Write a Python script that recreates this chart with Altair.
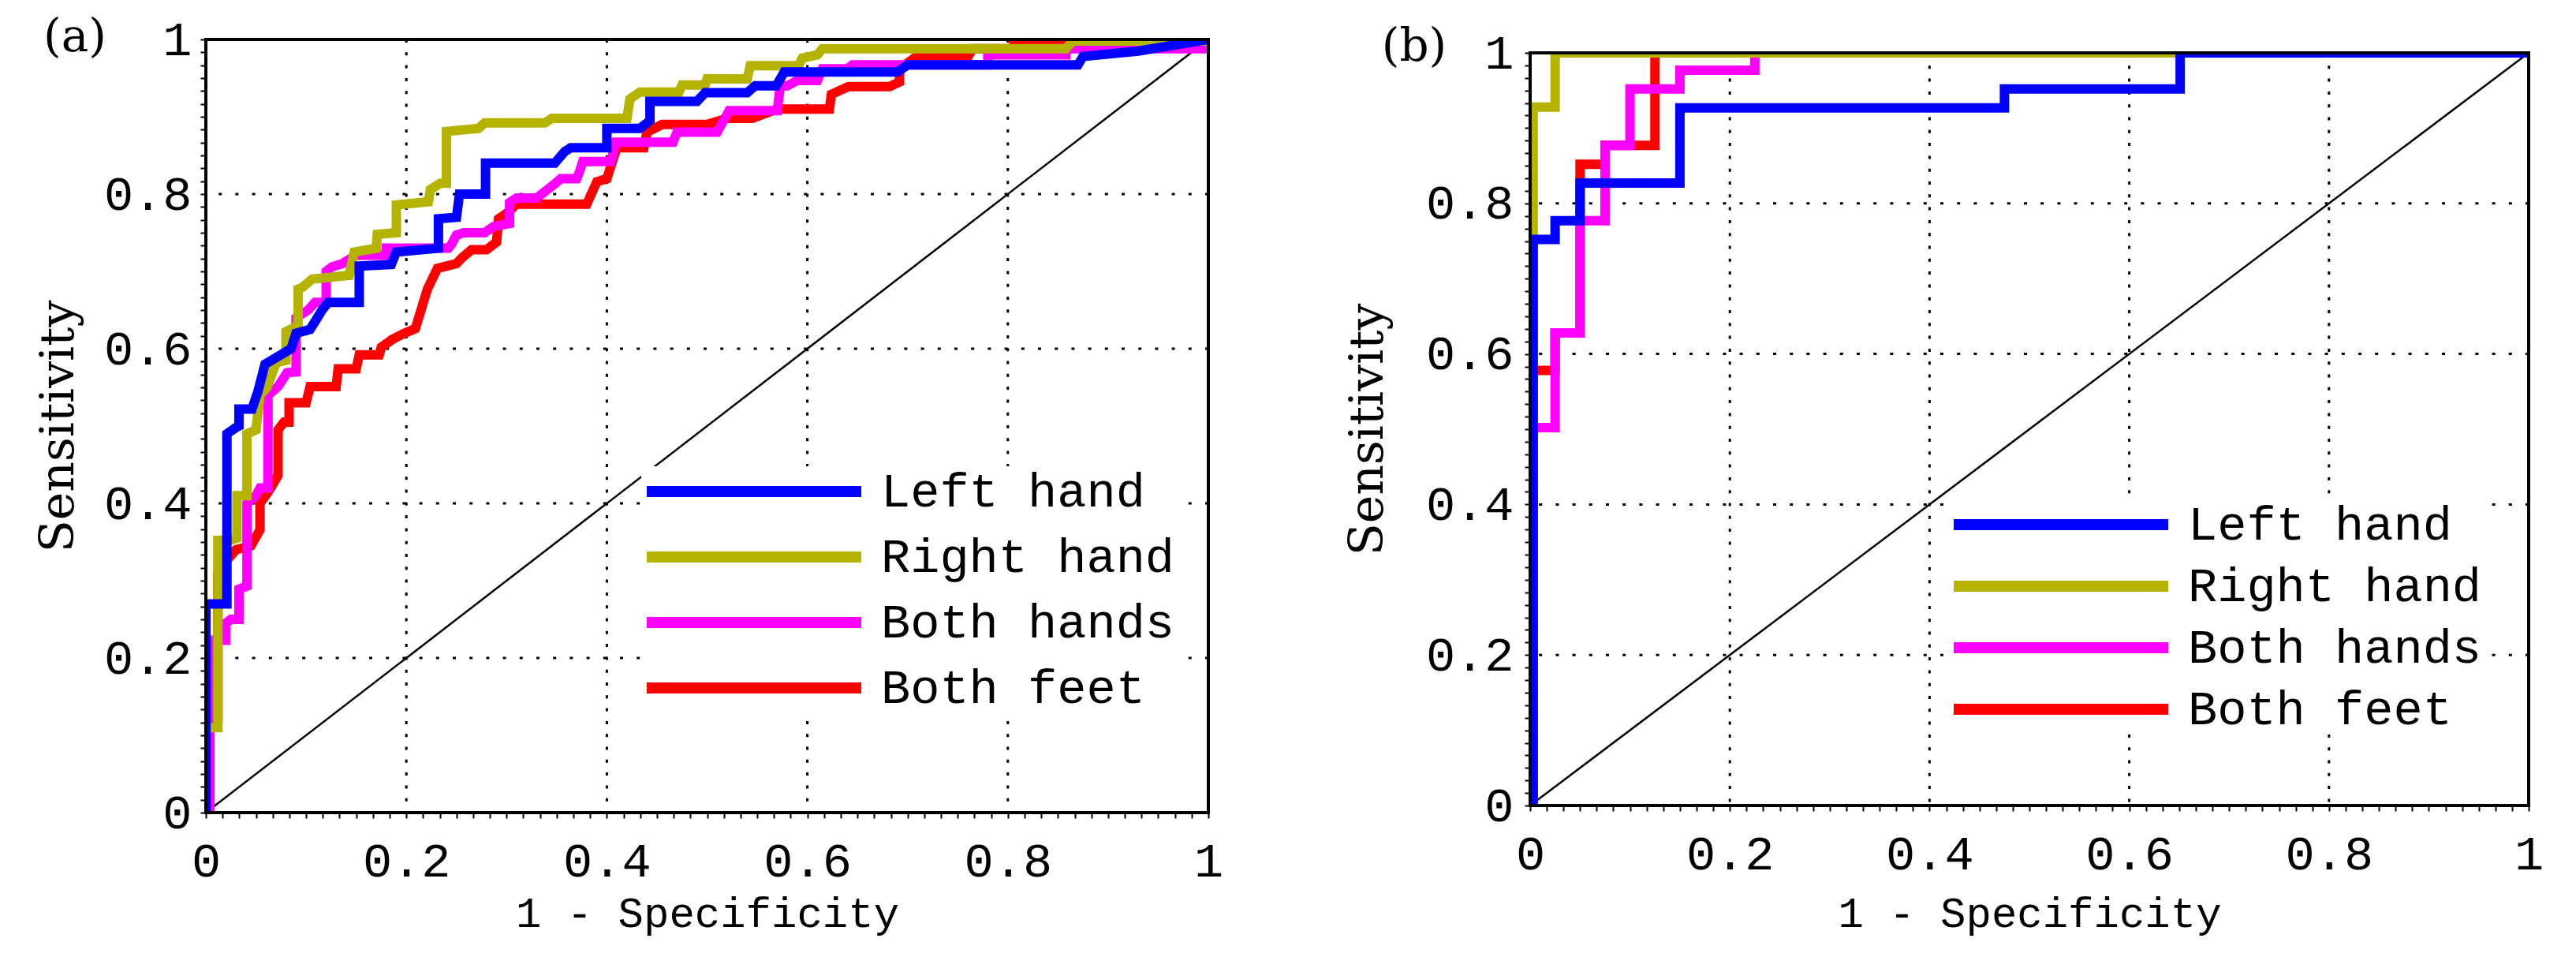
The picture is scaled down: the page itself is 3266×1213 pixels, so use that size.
import altair as alt
import pandas as pd

FONT = "DejaVu Serif"
MONO = "Liberation Mono"
SERIES = ["Left hand", "Right hand", "Both hands", "Both feet"]
COLORS = ["#0000FF", "#B4B400", "#FF00FF", "#FF0000"]
DRAW_ORDER = ["Both feet", "Both hands", "Right hand", "Left hand"]

TICK_VALUES = [round(i / 60, 6) for i in range(61)]
GRID_VALUES = [0.2, 0.4, 0.6, 0.8]
DIAG = [0.0, 1.0]

# ---------------- panel (a) ----------------
a_left_fpr = [0.0, 0.0, 0.021, 0.021, 0.03, 0.033, 0.033, 0.046, 0.052, 0.059, 0.085, 0.09, 0.104, 0.116, 0.122,
              0.153, 0.153, 0.185, 0.19, 0.232, 0.232, 0.25, 0.253, 0.279, 0.279, 0.348, 0.358, 0.364, 0.4, 0.4,
              0.433, 0.443, 0.443, 0.49, 0.498, 0.54, 0.548, 0.569, 0.577, 0.69, 0.7, 0.87, 0.875, 0.93, 1.0]
a_left_tpr = [0.0, 0.27, 0.27, 0.49, 0.498, 0.5, 0.522, 0.522, 0.545, 0.58, 0.6, 0.62, 0.625, 0.65, 0.66,
              0.66, 0.707, 0.709, 0.725, 0.73, 0.768, 0.77, 0.8, 0.8, 0.84, 0.84, 0.855, 0.86, 0.86, 0.885,
              0.885, 0.895, 0.92, 0.92, 0.931, 0.931, 0.94, 0.94, 0.958, 0.958, 0.967, 0.967, 0.978, 0.985, 1.0]

a_right_fpr = [0.0, 0.0, 0.012, 0.012, 0.026, 0.031, 0.031, 0.041, 0.041, 0.05, 0.054, 0.061, 0.07, 0.08, 0.08,
               0.092, 0.092, 0.097, 0.106, 0.143, 0.148, 0.17, 0.171, 0.19, 0.19, 0.222, 0.224, 0.234, 0.24, 0.24,
               0.272, 0.278, 0.338, 0.345, 0.42, 0.423, 0.433, 0.472, 0.475, 0.498, 0.5, 0.54, 0.543, 0.591,
               0.595, 0.61, 0.615, 0.858, 0.865, 1.0]
a_right_tpr = [0.0, 0.11, 0.11, 0.352, 0.353, 0.355, 0.41, 0.41, 0.49, 0.495, 0.54, 0.55, 0.582, 0.585, 0.622,
               0.63, 0.677, 0.68, 0.69, 0.695, 0.725, 0.73, 0.748, 0.75, 0.786, 0.79, 0.806, 0.814, 0.814, 0.881,
               0.885, 0.892, 0.892, 0.898, 0.898, 0.923, 0.932, 0.932, 0.941, 0.941, 0.949, 0.949, 0.966, 0.966,
               0.976, 0.98, 0.988, 0.988, 0.998, 0.998]

a_both_hands_fpr = [0.004, 0.004, 0.02, 0.02, 0.025, 0.033, 0.033, 0.041, 0.041, 0.05, 0.054, 0.062, 0.062, 0.072,
                    0.081, 0.09, 0.09, 0.102, 0.109, 0.12, 0.12, 0.126, 0.136, 0.15, 0.18, 0.18, 0.242, 0.245,
                    0.25, 0.257, 0.278, 0.287, 0.303, 0.303, 0.31, 0.33, 0.348, 0.354, 0.37, 0.373, 0.376, 0.404,
                    0.409, 0.466, 0.47, 0.51, 0.522, 0.57, 0.573, 0.58, 0.59, 0.61, 0.615, 0.64, 0.645, 0.78,
                    0.78, 0.858, 0.858, 0.995, 1.0]
a_both_hands_tpr = [0.0, 0.223, 0.223, 0.245, 0.25, 0.25, 0.289, 0.293, 0.4, 0.41, 0.42, 0.42, 0.54, 0.551,
                    0.569, 0.57, 0.64, 0.65, 0.66, 0.66, 0.7, 0.706, 0.71, 0.721, 0.721, 0.73, 0.73, 0.735,
                    0.747, 0.75, 0.75, 0.758, 0.762, 0.789, 0.795, 0.795, 0.813, 0.82, 0.82, 0.83, 0.842, 0.842,
                    0.867, 0.867, 0.88, 0.88, 0.908, 0.908, 0.94, 0.94, 0.947, 0.947, 0.962, 0.962, 0.967, 0.967,
                    0.98, 0.98, 0.988, 0.988, 1.0]

a_both_feet_fpr = [0.004, 0.004, 0.012, 0.012, 0.02, 0.03, 0.045, 0.054, 0.054, 0.0625, 0.072, 0.072, 0.078, 0.083,
                   0.083, 0.1, 0.104, 0.13, 0.132, 0.15, 0.153, 0.173, 0.175, 0.186, 0.198, 0.209, 0.221, 0.231,
                   0.25, 0.255, 0.265, 0.28, 0.29, 0.292, 0.3, 0.31, 0.38, 0.39, 0.4, 0.41, 0.437, 0.44, 0.455,
                   0.5, 0.52, 0.545, 0.57, 0.622, 0.624, 0.641, 0.682, 0.692, 0.692, 0.708, 0.76, 0.765, 0.806,
                   0.806, 1.0]
a_both_feet_tpr = [0.0, 0.11, 0.12, 0.31, 0.325, 0.34, 0.345, 0.366, 0.4, 0.415, 0.436, 0.495, 0.505, 0.505,
                   0.53, 0.53, 0.551, 0.551, 0.574, 0.574, 0.592, 0.592, 0.602, 0.612, 0.62, 0.626, 0.677, 0.704,
                   0.71, 0.717, 0.728, 0.728, 0.738, 0.768, 0.775, 0.787, 0.787, 0.816, 0.82, 0.86, 0.86, 0.88,
                   0.89, 0.89, 0.898, 0.898, 0.91, 0.91, 0.929, 0.939, 0.939, 0.945, 0.962, 0.977, 0.977, 0.988,
                   0.988, 0.998, 0.998]

# ---------------- panel (b) ----------------
b_left_fpr = [0.003, 0.003, 0.025, 0.025, 0.05, 0.05, 0.15, 0.15, 0.475, 0.475, 0.651, 0.651, 1.0]
b_left_tpr = [0.0, 0.752, 0.752, 0.777, 0.777, 0.827, 0.827, 0.927, 0.927, 0.952, 0.952, 1.0, 1.0]

b_right_fpr = [0.003, 0.003, 0.025, 0.025, 1.0]
b_right_tpr = [0.0, 0.928, 0.928, 1.0, 1.0]

b_both_hands_fpr = [0.003, 0.003, 0.025, 0.025, 0.05, 0.05, 0.075, 0.075, 0.1, 0.1, 0.15, 0.15, 0.225, 0.225, 1.0]
b_both_hands_tpr = [0.0, 0.502, 0.502, 0.628, 0.628, 0.777, 0.777, 0.877, 0.877, 0.952, 0.952, 0.977, 0.977, 1.0, 1.0]

b_both_feet_fpr = [0.003, 0.003, 0.025, 0.025, 0.05, 0.05, 0.075, 0.075, 0.125, 0.125, 1.0]
b_both_feet_tpr = [0.0, 0.578, 0.578, 0.628, 0.628, 0.852, 0.852, 0.877, 0.877, 1.0, 1.0]


def make_df(fpr, tpr, name):
    return pd.DataFrame({"fpr": fpr, "tpr": tpr, "series": name, "idx": list(range(len(fpr)))})


curves_a = {
    "Left hand": make_df(a_left_fpr, a_left_tpr, "Left hand"),
    "Right hand": make_df(a_right_fpr, a_right_tpr, "Right hand"),
    "Both hands": make_df(a_both_hands_fpr, a_both_hands_tpr, "Both hands"),
    "Both feet": make_df(a_both_feet_fpr, a_both_feet_tpr, "Both feet"),
}
curves_b = {
    "Left hand": make_df(b_left_fpr, b_left_tpr, "Left hand"),
    "Right hand": make_df(b_right_fpr, b_right_tpr, "Right hand"),
    "Both hands": make_df(b_both_hands_fpr, b_both_hands_tpr, "Both hands"),
    "Both feet": make_df(b_both_feet_fpr, b_both_feet_tpr, "Both feet"),
}

LABEL_EXPR = "abs(datum.value*5 - round(datum.value*5)) < 0.001 ? format(datum.value, '~g') : ''"


def panel(curves, w, h, label, lab_x, lab_y, lx, ly, row_pad, ylp, ytp, xtp):
    xs = alt.Scale(domain=[0, 1], nice=False, zero=False)
    ys = alt.Scale(domain=[0, 1], nice=False, zero=False)
    common = dict(values=TICK_VALUES, labelExpr=LABEL_EXPR, labelFont=MONO, labelFontSize=62,
                  labelColor="black", labelOverlap=False, labelFlush=False, tickSize=7, tickWidth=2,
                  tickColor="black", domain=False, grid=False, titleFontWeight="normal", titleColor="black")
    xaxis = alt.Axis(title="1 - Specificity", labelPadding=24, titlePadding=xtp, titleFont=MONO,
                     titleFontSize=54, **common)
    yaxis = alt.Axis(title="Sensitivity", labelPadding=ylp, titlePadding=ytp, titleFont=FONT,
                     titleFontSize=60, **common)
    grid_df = pd.DataFrame({"v": GRID_VALUES})
    vgrid = alt.Chart(grid_df).mark_rule(color="black", strokeWidth=3, strokeDash=[4, 12.3]).encode(
        x=alt.X("v:Q", scale=xs, axis=xaxis))
    hgrid = alt.Chart(grid_df).mark_rule(color="black", strokeWidth=3, strokeDash=[4, 17.2]).encode(
        y=alt.Y("v:Q", scale=ys, axis=yaxis))
    diag = alt.Chart(pd.DataFrame({"fpr": DIAG, "tpr": DIAG})).mark_line(color="black", strokeWidth=2.5).encode(
        x=alt.X("fpr:Q", scale=xs, axis=xaxis), y=alt.Y("tpr:Q", scale=ys, axis=yaxis))
    legend = alt.Legend(orient="none", legendX=lx, legendY=ly, title=None, symbolType="stroke",
                        symbolSize=73984, symbolStrokeWidth=14, clipHeight=64, rowPadding=row_pad,
                        labelFont=MONO, labelFontSize=62, labelColor="black", labelOffset=18,
                        labelLimit=2000, fillColor="white", padding=0)
    lines = []
    for name in DRAW_ORDER:
        lines.append(alt.Chart(curves[name]).mark_line(strokeWidth=12, clip=True).encode(
            x=alt.X("fpr:Q", scale=xs, axis=xaxis),
            y=alt.Y("tpr:Q", scale=ys, axis=yaxis),
            color=alt.Color("series:N", scale=alt.Scale(domain=SERIES, range=COLORS), legend=legend),
            order="idx:Q"))
    frame = alt.Chart(pd.DataFrame({"x0": [0], "x1": [1], "y0": [0], "y1": [1]})).mark_rect(
        fillOpacity=0, stroke="black", strokeWidth=4).encode(
        x=alt.X("x0:Q", scale=xs, axis=xaxis), x2="x1:Q",
        y=alt.Y("y0:Q", scale=ys, axis=yaxis), y2="y1:Q")
    tag = alt.Chart(pd.DataFrame({"t": [label]})).mark_text(
        font=FONT, fontSize=58, color="black", align="center", baseline="middle").encode(
        text="t:N", x=alt.value(lab_x), y=alt.value(lab_y))
    return alt.layer(vgrid, hgrid, diag, *lines, frame, tag).properties(width=w, height=h)


panel_a = panel(curves_a, 1271, 980, "(a)", -166, -2, 552, 541, 19, 11, 26, 9)
panel_b = panel(curves_b, 1266, 954, "(b)", -147, -7, 530, 566, 14, 14, 42, 18)

spacer = alt.Chart(pd.DataFrame({"s": [0]})).mark_point(opacity=0).encode(
    x=alt.X("s:Q", axis=None), y=alt.Y("s:Q", axis=None)).properties(width=1266, height=17)

right_col = alt.vconcat(spacer, panel_b, spacing=0, bounds="flush").resolve_scale(color="independent")

chart = alt.hconcat(panel_a, right_col, spacing=408, bounds="flush").resolve_scale(
    color="independent").properties(padding={"left": 36, "top": 11, "right": 5, "bottom": 5}).configure_view(
    stroke=None)

chart.save("out.html", embed_options={"renderer": "svg", "actions": False})
